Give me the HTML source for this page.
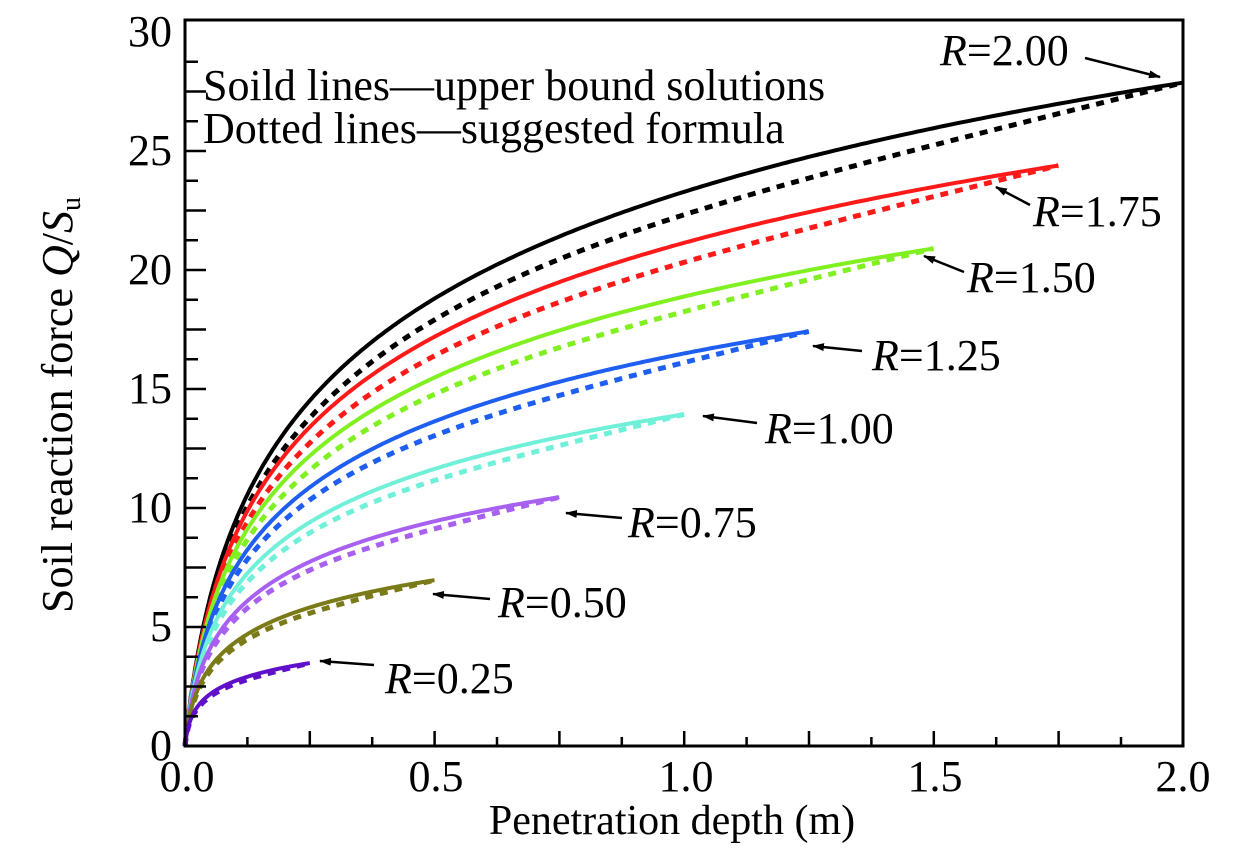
<!DOCTYPE html>
<html><head><meta charset="utf-8"><style>
html,body{margin:0;padding:0;background:#fff}
svg{display:block}
text{font-family:"Liberation Serif",serif;fill:#000}
</style></head><body>
<svg id="s" width="1260" height="854" viewBox="0 0 1260 854" xmlns="http://www.w3.org/2000/svg">
<defs><marker id="ah" markerWidth="12" markerHeight="8" refX="11" refY="4" orient="auto" markerUnits="userSpaceOnUse"><path d="M0,0 L12,4 L0,8 z" fill="#000"/></marker></defs>
<g id="curves"></g>
<rect x="185" y="20" width="998" height="726" fill="none" stroke="#000" stroke-width="3"/>
<g id="ticks" stroke="#000" stroke-width="2.5"></g>
<g font-size="44">
<text x="172" y="760" text-anchor="end">0</text>
<text x="172" y="641" text-anchor="end">5</text>
<text x="172" y="522" text-anchor="end">10</text>
<text x="172" y="403" text-anchor="end">15</text>
<text x="172" y="284" text-anchor="end">20</text>
<text x="172" y="165" text-anchor="end">25</text>
<text x="172" y="46" text-anchor="end">30</text>
<text x="187" y="791" text-anchor="middle">0.0</text>
<text x="436" y="791" text-anchor="middle">0.5</text>
<text x="686" y="791" text-anchor="middle">1.0</text>
<text x="935" y="791" text-anchor="middle">1.5</text>
<text x="1183" y="791" text-anchor="middle">2.0</text>
<text x="672" y="834" text-anchor="middle" font-size="42">Penetration depth (m)</text>
<text transform="translate(72,405) rotate(-90)" text-anchor="middle">Soil reaction force <tspan font-style="italic">Q</tspan>/<tspan font-style="italic">S</tspan><tspan font-size="28" dy="8">u</tspan></text>
<text x="203" y="100">Soild lines—upper bound solutions</text>
<text x="203" y="143">Dotted lines—suggested formula</text>
<text x="940" y="65"><tspan font-style="italic">R</tspan>=2.00</text>
<text x="1033" y="226"><tspan font-style="italic">R</tspan>=1.75</text>
<text x="967" y="292"><tspan font-style="italic">R</tspan>=1.50</text>
<text x="872" y="370"><tspan font-style="italic">R</tspan>=1.25</text>
<text x="765" y="443"><tspan font-style="italic">R</tspan>=1.00</text>
<text x="628" y="537"><tspan font-style="italic">R</tspan>=0.75</text>
<text x="498" y="617"><tspan font-style="italic">R</tspan>=0.50</text>
<text x="385" y="693"><tspan font-style="italic">R</tspan>=0.25</text>
</g>
<g stroke="#000" stroke-width="2.5" marker-end="url(#ah)">
<line x1="1085" y1="58" x2="1160" y2="77"/>
<line x1="1030" y1="205" x2="996" y2="187"/>
<line x1="964" y1="272" x2="924" y2="256"/>
<line x1="862" y1="351" x2="813" y2="346"/>
<line x1="757" y1="423" x2="703" y2="416"/>
<line x1="622" y1="518" x2="566" y2="513"/>
<line x1="490" y1="599" x2="433" y2="594"/>
<line x1="374" y1="665" x2="320" y2="661"/>
</g>
</svg>
<script>
var ns="http://www.w3.org/2000/svg";
var X=function(d){return 185+d*499}, Y=function(q){return 746-q*23.8};
var tk=document.getElementById('ticks');
function ln(a,b,c,d){var l=document.createElementNS(ns,'line');l.setAttribute('x1',a);l.setAttribute('y1',b);l.setAttribute('x2',c);l.setAttribute('y2',d);tk.appendChild(l);}
for(var i=1;i<16;i++){var x=185+i*62.4;ln(x,746,x,i%2==0?731:737);}
for(var i=1;i<24;i++){var y=746-i*29.75;ln(185,y,i%2==0?206:198,y);}
var series=[[2,'#000'],[1.75,'#ff1a1a'],[1.5,'#80f020'],[1.25,'#1e5ef0'],[1,'#70f0d8'],[0.75,'#a860f0'],[0.5,'#7a7a18'],[0.25,'#6010c8']];
var g=document.getElementById('curves');
function f(t){return 3.39*Math.log(1+60*t);}
function fd(t){return f(t)-1.9*t*(1-t)-0.6*Math.pow(1-t,8)*t*6;}
series.forEach(function(s){
 var R=s[0],c=s[1];
 var p1=[],p2=[];
 for(var i=0;i<=300;i++){var d=R*Math.pow(i/300,2);var t=d/R;
  p1.push(X(d).toFixed(1)+','+Y(R*f(t)).toFixed(1));
  p2.push(X(d).toFixed(1)+','+Y(Math.max(0,R*fd(t))).toFixed(1));}
 var a=document.createElementNS(ns,'polyline');a.setAttribute('points',p2.join(' '));a.setAttribute('fill','none');a.setAttribute('stroke',c);a.setAttribute('stroke-width','5');a.setAttribute('stroke-dasharray','8 7');g.appendChild(a);
 var b=document.createElementNS(ns,'polyline');b.setAttribute('points',p1.join(' '));b.setAttribute('fill','none');b.setAttribute('stroke',c);b.setAttribute('stroke-width','4');g.appendChild(b);
});
</script>
</body></html>
